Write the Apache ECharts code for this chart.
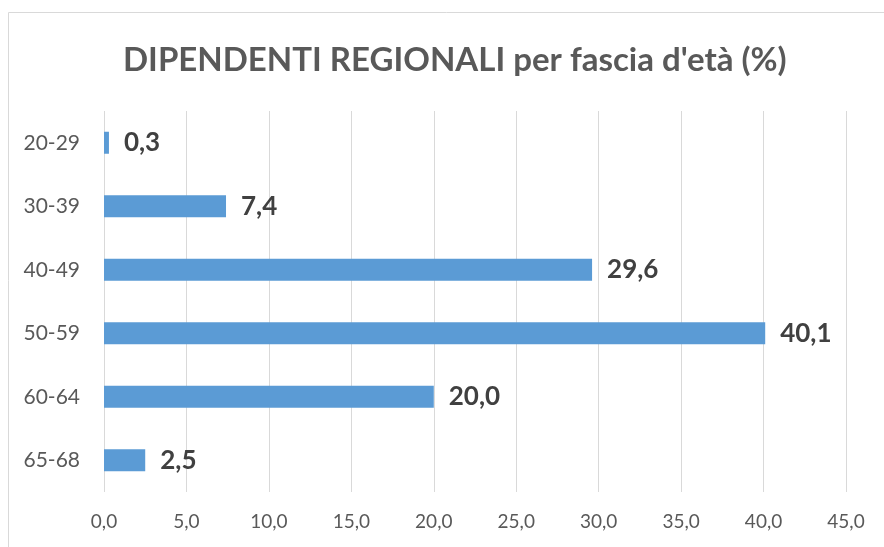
<!DOCTYPE html>
<html>
<head>
<meta charset="utf-8">
<script src="https://cdn.jsdelivr.net/npm/echarts@6/dist/echarts.min.js"></script>
<style>
  html, body { margin: 0; padding: 0; background: #fff; }
  #chart { width: 884px; height: 547px; }
</style>
</head>
<body>
<div id="chart"></div>
<script>
  // fasce d'età, dall'alto verso il basso
  var categories = ['20-29', '30-39', '40-49', '50-59', '60-64', '65-68'];
  var values = [0.3, 7.4, 29.6, 40.1, 20.0, 2.5];
  var xMin = 0, xMax = 45, xStep = 5;

  function comma(v) {
    return Number(v).toFixed(1).replace('.', ',');
  }

  var myChart = echarts.init(document.getElementById('chart'));
  var option = {
    animation: false,
    title: {
      text: "DIPENDENTI REGIONALI per fascia d'età (%)",
      left: 118,
      top: 39,
      textStyle: {
        fontFamily: 'Lato',
        fontWeight: 'bold',
        fontSize: 33,
        color: '#595959'
      }
    },
    graphic: [{
      type: 'rect',
      shape: { x: 8.5, y: 12.5, width: 900, height: 600 },
      style: { fill: 'none', stroke: '#d9d9d9', lineWidth: 1 },
      silent: true
    }],
    grid: {
      left: 104,
      right: 38,
      top: 111,
      bottom: 55
    },
    xAxis: {
      type: 'value',
      min: xMin,
      max: xMax,
      interval: xStep,
      axisLine: { show: false },
      axisTick: { show: false },
      splitLine: { lineStyle: { color: '#d9d9d9', width: 1 } },
      axisLabel: {
        margin: 20,
        fontFamily: 'Lato',
        fontSize: 19,
        color: '#595959',
        formatter: comma
      }
    },
    yAxis: {
      type: 'category',
      data: categories,
      inverse: true,
      axisLine: { show: false },
      axisTick: { show: false },
      axisLabel: {
        margin: 24,
        fontFamily: 'Lato',
        fontSize: 21,
        color: '#595959'
      }
    },
    series: [{
      type: 'bar',
      data: values,
      barWidth: 22,
      itemStyle: { color: '#5b9bd5' },
      label: {
        show: true,
        position: 'right',
        distance: 15,
        fontFamily: 'Lato',
        fontWeight: 'bold',
        fontSize: 26,
        color: '#404040',
        formatter: function (p) { return comma(p.value); }
      }
    }]
  };
  myChart.setOption(option);
</script>
</body>
</html>
